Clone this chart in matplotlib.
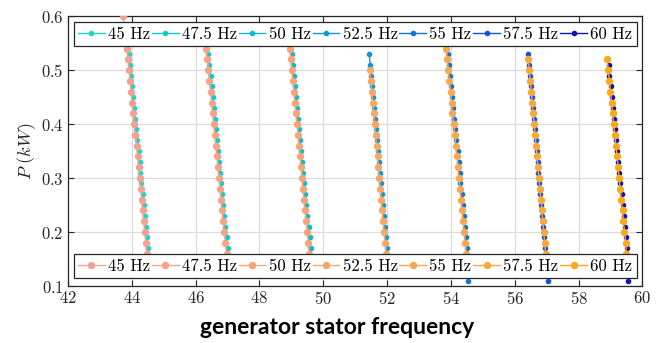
import numpy as np
import matplotlib
matplotlib.use("Agg")
import matplotlib.pyplot as plt

nan = np.nan

# power levels (kW) at which the points sit
P_cool = [0.53, 0.51, 0.49, 0.47, 0.45, 0.43, 0.41, 0.39, 0.37, 0.35, 0.33,
          0.31, 0.29, 0.27, 0.25, 0.23, 0.21, 0.19, 0.17, 0.15, 0.13, 0.11]
P_warm = [0.60, 0.58, 0.56, 0.54, 0.52, 0.50, 0.48, 0.46, 0.44, 0.42, 0.40, 0.38, 0.36,
          0.34, 0.32, 0.30, 0.28, 0.26, 0.24, 0.22, 0.20, 0.18, 0.16, 0.14, 0.12]

labels = ['45 Hz', '47.5 Hz', '50 Hz', '52.5 Hz', '55 Hz', '57.5 Hz', '60 Hz']

# stator frequency, first series set (top legend)
f_cool_45 = [43.91, 43.94, 43.98, 44.01, 44.04, 44.07, 44.11, 44.14, 44.17, 44.21, 44.24,
             44.27, 44.30, 44.34, 44.37, 44.40, 44.43, 44.47, 44.50, 44.53, 44.57, nan]
f_cool_475 = [46.40, 46.43, 46.47, 46.50, 46.53, 46.57, 46.60, 46.63, 46.67, 46.70, 46.73,
              46.77, 46.80, 46.83, 46.87, 46.90, 46.93, 46.97, 47.00, 47.03, 47.07, nan]
f_cool_50 = [49.02, 49.05, 49.08, 49.12, 49.15, 49.18, 49.21, 49.25, 49.28, 49.31, 49.34,
             49.37, 49.41, 49.44, 49.47, 49.50, 49.54, 49.57, 49.60, 49.63, 49.66, nan]
f_cool_525 = [51.44, 51.47, 51.50, 51.53, 51.56, 51.59, 51.62, 51.65, 51.68, 51.71, 51.74,
              51.77, 51.80, 51.83, 51.86, 51.89, 51.92, 51.96, 51.99, 52.02, 52.05, nan]
f_cool_55 = [53.91, 53.94, 53.98, 54.01, 54.04, 54.07, 54.11, 54.14, 54.17, 54.21, 54.24,
             54.27, 54.30, 54.34, 54.37, 54.40, 54.43, 54.47, 54.50, 54.52, 54.53, 54.54]
f_cool_575 = [56.43, 56.46, 56.49, 56.51, 56.54, 56.57, 56.60, 56.63, 56.66, 56.69, 56.72,
              56.74, 56.77, 56.80, 56.83, 56.86, 56.89, 56.92, 56.95, 56.98, 57.01, 57.04]
f_cool_60 = [nan, 58.94, 58.97, 59.01, 59.04, 59.08, 59.11, 59.14, 59.18, 59.21, 59.25,
             59.28, 59.31, 59.35, 59.38, 59.42, 59.45, 59.48, 59.51, 59.53, 59.54, 59.55]

# stator frequency, second series set (bottom legend)
f_warm_45 = [43.72, 43.77, 43.81, 43.85, 43.88, 43.92, 43.95, 43.98, 44.01, 44.05, 44.08, 44.11,
             44.15, 44.18, 44.21, 44.24, 44.28, 44.31, 44.34, 44.37, 44.41, 44.44, 44.47, 44.51, 44.54]
f_warm_475 = [nan, nan, nan, 46.33, 46.37, 46.40, 46.43, 46.47, 46.50, 46.53, 46.57, 46.60,
              46.63, 46.67, 46.70, 46.73, 46.77, 46.80, 46.83, 46.87, 46.90, 46.93, 46.97, 47.00, 47.03]
f_warm_50 = [nan, nan, nan, 48.95, 48.98, 49.01, 49.05, 49.08, 49.11, 49.14, 49.18, 49.21,
             49.24, 49.27, 49.31, 49.34, 49.37, 49.40, 49.43, 49.47, 49.50, 49.53, 49.56, 49.60, 49.63]
f_warm_525 = [nan, nan, nan, nan, nan, 51.46, 51.49, 51.52, 51.55, 51.58, 51.61, 51.64,
              51.67, 51.70, 51.73, 51.76, 51.79, 51.82, 51.85, 51.88, 51.91, 51.94, 51.97, 52.00, 52.03]
f_warm_55 = [nan, nan, nan, 53.85, 53.89, 53.92, 53.95, 53.99, 54.02, 54.05, 54.09, 54.12,
             54.15, 54.19, 54.22, 54.25, 54.29, 54.32, 54.35, 54.39, 54.42, 54.45, 54.48, 54.50, 54.51]
f_warm_575 = [nan, nan, nan, nan, 56.43, 56.46, 56.49, 56.52, 56.55, 56.58, 56.61, 56.64,
              56.67, 56.70, 56.73, 56.76, 56.79, 56.82, 56.85, 56.88, 56.91, 56.94, 56.97, 56.99, 57.01]
f_warm_60 = [nan, nan, nan, nan, 58.90, 58.93, 58.97, 59.00, 59.04, 59.07, 59.10, 59.14,
             59.17, 59.21, 59.24, 59.27, 59.31, 59.34, 59.38, 59.41, 59.44, 59.48, 59.50, 59.52, 59.53]

cool_sets = [f_cool_45, f_cool_475, f_cool_50, f_cool_525, f_cool_55, f_cool_575, f_cool_60]
warm_sets = [f_warm_45, f_warm_475, f_warm_50, f_warm_525, f_warm_55, f_warm_575, f_warm_60]

cool_colors = ['#1cd6c4', '#16c9c9', '#12b9d3', '#1196d3', '#1473d9', '#1452d9', '#1212b8']
warm_colors = ['#f4a193', '#f6a286', '#f7a577', '#f7a766', '#f7a852', '#f8a83c', '#faa81e']

plt.rcParams['font.family'] = 'cmr10'
plt.rcParams['mathtext.fontset'] = 'cm'
plt.rcParams['axes.formatter.use_mathtext'] = True

fig = plt.figure(figsize=(6.67, 3.43), dpi=100)
ax = fig.add_axes([0.102, 0.166, 0.861, 0.787])

# first set underneath, second set drawn on top of it
cool_lines = []
for f, c, lab in zip(cool_sets, cool_colors, labels):
    ln, = ax.plot(f, P_cool, color=c, lw=1.0, marker='o', ms=3.0, label=lab, zorder=2)
    cool_lines.append(ln)

warm_lines = []
for f, c, lab in zip(warm_sets, warm_colors, labels):
    ln, = ax.plot(f, P_warm, color=c, lw=1.0, marker='o', ms=4.3, label=lab, zorder=3)
    warm_lines.append(ln)

ax.set_xlim(42, 60)
ax.set_ylim(0.1, 0.6)
ax.set_xticks([42, 44, 46, 48, 50, 52, 54, 56, 58, 60])
ax.set_yticks([0.1, 0.2, 0.3, 0.4, 0.5, 0.6])
ax.grid(True, color='#dcdcdc', lw=0.9)
ax.set_axisbelow(True)
ax.tick_params(direction='in', top=True, right=True, length=4, labelsize=12,
               colors='#262626', pad=3)
for s in ax.spines.values():
    s.set_color('#262626')
    s.set_linewidth(0.9)

ax.set_ylabel(r'$P\ (kW)$', fontsize=13, color='#262626', labelpad=2)
ax.set_xlabel('generator stator frequency', family='Lato', fontweight='bold',
              fontsize=16.5, labelpad=8)
ax.xaxis.set_label_coords(0.468, -0.115)
ax.xaxis.label.set_va('top')

leg_kw = dict(ncol=7, mode='expand', borderaxespad=0, fontsize=12, handlelength=1.6,
              handletextpad=0.2, columnspacing=0.2, borderpad=0.25, fancybox=False,
              framealpha=1, edgecolor='#262626')
leg1 = ax.legend(handles=cool_lines, loc='upper left',
                 bbox_to_anchor=(0.01, 0.88, 0.98, 0.098), **leg_kw)
leg1.get_frame().set_linewidth(0.9)
ax.add_artist(leg1)
leg2 = ax.legend(handles=warm_lines, loc='lower left',
                 bbox_to_anchor=(0.01, 0.03, 0.98, 0.09), **leg_kw)
leg2.get_frame().set_linewidth(0.9)

fig.savefig('out.png', dpi=100)
